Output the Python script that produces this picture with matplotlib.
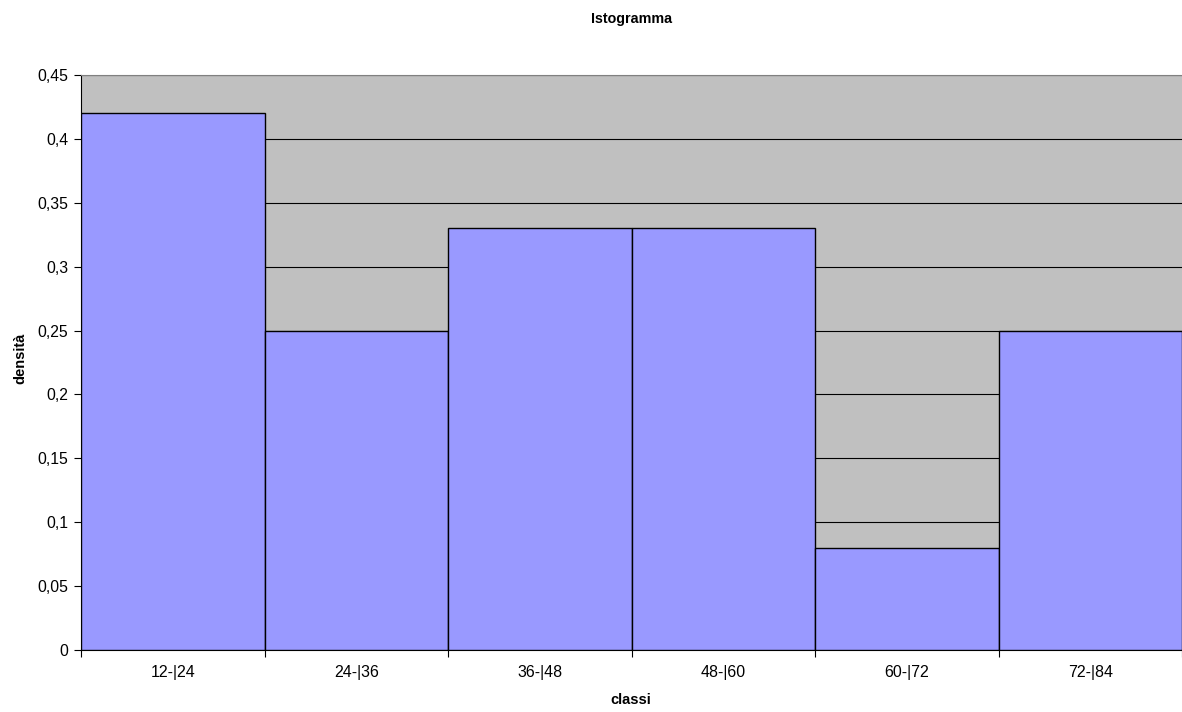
import matplotlib
matplotlib.use("Agg")
import matplotlib.pyplot as plt
import numpy as np

categories = ["12-|24", "24-|36", "36-|48", "48-|60", "60-|72", "72-|84"]
density = [0.42, 0.25, 0.33, 0.33, 0.08, 0.25]
yticks = [0, 0.05, 0.1, 0.15, 0.2, 0.25, 0.3, 0.35, 0.4, 0.45]
ytick_labels = ["0", "0,05", "0,1", "0,15", "0,2", "0,25", "0,3", "0,35", "0,4", "0,45"]

plt.rcParams['font.family'] = ['Liberation Sans', 'DejaVu Sans']

W, H = 1182, 712
L, T, B = 81, 75, 650
fig = plt.figure(figsize=(W / 100, H / 100), dpi=100)
ax = fig.add_axes([L / W, 1 - B / H, 1 - L / W, (B - T) / H])
ax.set_facecolor("#C0C0C0")

x = np.arange(len(categories)) + 0.5
ax.bar(x, density, width=1.0, color="#9999FF", edgecolor="black", linewidth=1.0, zorder=3)

ax.set_xlim(0, len(categories))
ax.set_ylim(0, 0.45)
ax.set_yticks(yticks)
ax.set_yticklabels(ytick_labels, fontsize=11.3)
ax.yaxis.grid(True, color="black", linewidth=0.8, zorder=0)
ax.set_axisbelow(True)

ax.set_xticks(np.arange(len(categories) + 1))
ax.set_xticklabels([])
ax.set_xticks(x, minor=True)
ax.set_xticklabels(categories, minor=True, fontsize=11.5)
ax.tick_params(axis='x', which='major', length=5, direction='out', width=0.8)
ax.tick_params(axis='x', which='minor', length=0, pad=11)
ax.tick_params(axis='y', length=5, width=0.8, pad=4)

ax.spines['top'].set_color("#808080")
ax.spines['right'].set_visible(False)
ax.spines['left'].set_color("black")
ax.spines['bottom'].set_color("black")

ax.set_xlabel("classi", fontsize=10.5, fontweight='bold')
ax.xaxis.label.set_va('center')
ax.xaxis.set_label_coords((631 - L) / (W - L), (B - 700) / (B - T))
ax.set_ylabel("densità", fontsize=10.5, fontweight='bold')
ax.yaxis.label.set_va('center')
ax.yaxis.set_label_coords((20 - L) / (W - L), (B - 358) / (B - T))
fig.text((L + W) / 2 / W, 1 - 19 / H, "Istogramma", ha='center', va='center',
         fontsize=10.3, fontweight='bold')

fig.savefig("out.png", dpi=100)
